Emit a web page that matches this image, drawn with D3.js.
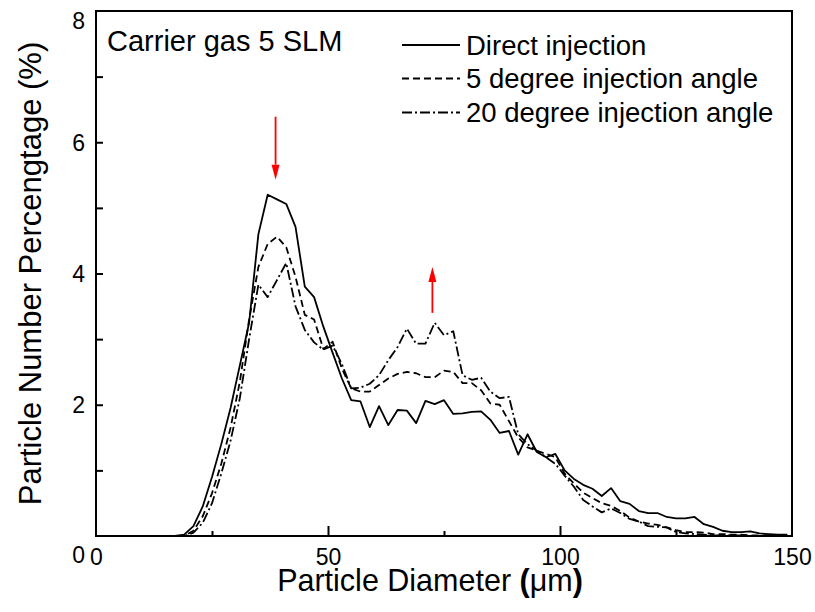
<!DOCTYPE html>
<html>
<head>
<meta charset="utf-8">
<script src="https://cdn.jsdelivr.net/npm/d3@7/dist/d3.min.js"></script>
<style>
  html, body { margin: 0; padding: 0; background: #fff; }
  text { font-family: "Liberation Sans", Arial, sans-serif; fill: #000; }
</style>
</head>
<body>
<svg id="chart" width="815" height="612"></svg>
<script>
// ---- data ----
const diameters = [1,3,5,7,9,11,13,15,17,19,21,23,25,27,29,31,33,35,37,39,41,43,45,47,49,51,53,55,57,59,61,63,65,67,69,71,73,75,77,79,81,83,85,87,89,91,93,95,97,99,101,103,105,107,109,111,113,115,117,119,121,123,125,127,129,131,133,135,137,139,141,143,145,147,149];
const directInjection = [0,0,0,0,0,0,0,0,0,0.02,0.15,0.45,0.9,1.4,1.95,2.6,3.25,4.6,5.2,5.13,5.06,4.71,3.8,3.64,3.19,2.79,2.4,2.07,2.05,1.66,1.98,1.69,1.92,1.91,1.72,2.06,2.01,2.07,1.86,1.87,1.89,1.9,1.77,1.57,1.6,1.24,1.55,1.28,1.2,1.25,1.0,0.87,0.78,0.72,0.61,0.73,0.53,0.49,0.38,0.35,0.35,0.29,0.27,0.27,0.29,0.18,0.14,0.08,0.06,0.06,0.07,0.04,0.03,0.02,0.02];
const angle5 = [0,0,0,0,0,0,0,0,0,0,0.08,0.3,0.65,1.1,1.65,2.35,3.3,4.1,4.45,4.56,4.4,3.95,3.37,3.3,2.85,2.96,2.55,2.25,2.2,2.2,2.3,2.4,2.47,2.5,2.48,2.42,2.42,2.52,2.5,2.33,2.33,2.22,2.02,2.0,1.75,1.5,1.35,1.3,1.25,1.2,0.95,0.8,0.66,0.58,0.5,0.46,0.38,0.28,0.22,0.19,0.17,0.13,0.09,0.06,0.06,0.05,0.03,0.03,0.02,0.02,0.01,0.01,0.01,0,0];
const angle20 = [0,0,0,0,0,0,0,0,0,0,0.05,0.2,0.5,0.95,1.45,2.1,3.0,3.83,3.64,3.9,4.16,3.5,3.14,2.95,2.84,2.9,2.62,2.25,2.26,2.32,2.45,2.68,2.88,3.16,2.93,2.93,3.25,3.06,3.12,2.45,2.38,2.41,2.2,2.1,2.12,1.55,1.4,1.3,1.2,1.1,0.92,0.75,0.55,0.45,0.36,0.42,0.35,0.26,0.22,0.15,0.14,0.13,0.06,0.04,0.03,0.02,0.01,0.01,0.01,0.01,0,0,0,0,0];
const seriesNames = ["Direct injection", "5 degree injection angle", "20 degree injection angle"];
const xMajorTicks = [0, 50, 100, 150];
const xMinorTicks = [25, 75, 125];
const yLabelTicks = [0, 2, 4, 6, 8];
const yMinorTicks = [1, 3, 5, 7];
// arrows: [x, yTail, yTip]
const arrowDown = [38.7, 6.39, 5.43];
const arrowUp = [72.5, 3.4, 4.1];

// ---- layout ----
const svg = d3.select("#chart");
const L = 96, R = 792, T = 11, B = 536;
const x = d3.scaleLinear().domain([0, 150]).range([L, R]);
const y = d3.scaleLinear().domain([0, 8]).range([B, T]);

// lines
const styles = [
  { data: directInjection, dash: null },
  { data: angle5, dash: "7,4" },
  { data: angle20, dash: "10,3,2,3" }
];
const line = d3.line().x(d => x(d[0])).y(d => y(d[1]));
styles.forEach(s => {
  svg.append("path")
    .attr("d", line(diameters.map((d, i) => [d, s.data[i]])))
    .attr("fill", "none").attr("stroke", "#000").attr("stroke-width", 1.8)
    .attr("stroke-linejoin", "round")
    .attr("stroke-dasharray", s.dash);
});
svg.append("line").attr("x1", x(0)).attr("x2", x(diameters[0]))
  .attr("y1", y(0)).attr("y2", y(0)).attr("stroke", "#000").attr("stroke-width", 1.8);

// frame
svg.append("rect").attr("x", L).attr("y", T).attr("width", R - L).attr("height", B - T)
  .attr("fill", "none").attr("stroke", "#000").attr("stroke-width", 2);

// x ticks (inward)
const gx = svg.append("g").attr("transform", `translate(0,${B})`);
gx.call(d3.axisBottom(x).tickValues([50, 100]).tickSize(-10).tickFormat(""));
const gx2 = svg.append("g").attr("transform", `translate(0,${B})`);
gx2.call(d3.axisBottom(x).tickValues(xMinorTicks).tickSize(-5).tickFormat(""));
[gx, gx2].forEach(g => { g.select(".domain").remove(); g.selectAll("line").attr("stroke-width", 2); });
// x labels
const gxl = svg.append("g").attr("transform", `translate(0,${B})`);
gxl.call(d3.axisBottom(x).tickValues(xMajorTicks).tickSize(0).tickPadding(0).tickFormat(d3.format("d")));
gxl.select(".domain").remove();
gxl.selectAll("text").attr("font-size", 23).attr("font-family", "Liberation Sans, Arial, sans-serif")
  .attr("y", 29).attr("dy", 0);

// y ticks
const gy = svg.append("g").attr("transform", `translate(${L},0)`);
gy.call(d3.axisLeft(y).tickValues(yMinorTicks.concat([2, 4, 6])).tickSize(-7).tickFormat(""));
gy.select(".domain").remove();
gy.selectAll("line").attr("stroke-width", 2);
// y labels
const gyl = svg.append("g").attr("transform", `translate(${L},0)`);
gyl.call(d3.axisLeft(y).tickValues(yLabelTicks).tickSize(0).tickPadding(11).tickFormat(d3.format("d")));
gyl.select(".domain").remove();
gyl.selectAll("text").attr("font-size", 23).attr("font-family", "Liberation Sans, Arial, sans-serif")
  .attr("dy", d => d === 0 ? "1.15em" : (d === 8 ? "0.75em" : "0.35em"));

// axis titles
const xt = svg.append("text").attr("x", 430).attr("y", 591).attr("text-anchor", "middle")
  .attr("font-size", 30.5);
xt.append("tspan").attr("font-weight", "normal").text("Particle Diameter ");
xt.append("tspan").attr("font-weight", "bold").text("(");
xt.append("tspan").attr("font-weight", "normal").text("μm");
xt.append("tspan").attr("font-weight", "bold").text(")");

svg.append("text").attr("transform", `translate(41,${(T + B) / 2}) rotate(-90)`)
  .attr("text-anchor", "middle").attr("font-size", 31)
  .text("Particle Number Percengtage (%)");

// annotation
svg.append("text").attr("x", 107).attr("y", 51).attr("font-size", 29).text("Carrier gas 5 SLM");

// legend
const legY = [45, 78.5, 112.5];
styles.forEach((s, i) => {
  svg.append("line").attr("x1", 402).attr("x2", 460).attr("y1", legY[i]).attr("y2", legY[i])
    .attr("stroke", "#000").attr("stroke-width", 1.8).attr("stroke-dasharray", s.dash);
  svg.append("text").attr("x", 466).attr("y", legY[i] + 9.5).attr("font-size", 27.5).text(seriesNames[i]);
});

// red arrows
function arrow(a) {
  const xs = x(a[0]), y0 = y(a[1]), y1 = y(a[2]);
  const dir = y1 > y0 ? 1 : -1;
  const headLen = 15, half = 4;
  svg.append("line").attr("x1", xs).attr("x2", xs).attr("y1", y0).attr("y2", y1 - dir * headLen)
    .attr("stroke", "#ff0000").attr("stroke-width", 1.8);
  svg.append("path")
    .attr("d", `M${xs - half},${y1 - dir * headLen} L${xs + half},${y1 - dir * headLen} L${xs},${y1} Z`)
    .attr("fill", "#ff0000");
}
arrow(arrowDown);
arrow(arrowUp);
</script>
</body>
</html>
